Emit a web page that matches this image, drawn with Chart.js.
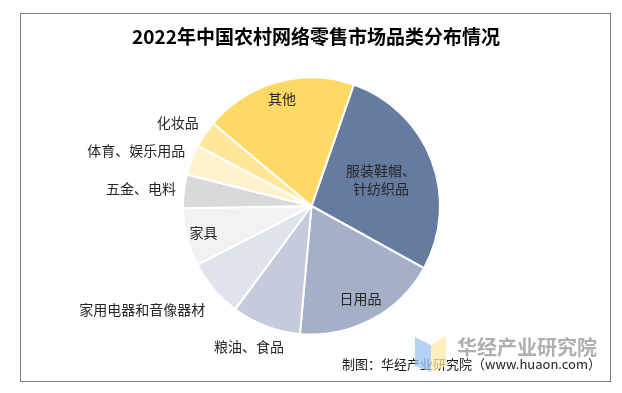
<!DOCTYPE html>
<html>
<head>
<meta charset="utf-8">
<script src="https://cdn.jsdelivr.net/npm/chart.js@4.4.1/dist/chart.umd.min.js"></script>
<style>
  html, body { margin: 0; padding: 0; background: #fff; }
  canvas { display: block; }
</style>
</head>
<body>
<canvas id="pieChart" width="622" height="393"></canvas>
<script>
// 2022年中国农村网络零售市场品类分布情况 (%)
const categories = ['服装鞋帽、针纺织品', '日用品', '粮油、食品', '家用电器和音像器材', '家具', '五金、电料', '体育、娱乐用品', '化妆品', '其他'];
const shares = [27.7, 18.4, 8.7, 7.3, 7.3, 4.2, 3.8, 3.4, 19.2];
const sliceColors = ['#667BA0', '#A5B0C8', '#C5CBDA', '#DFE3EC', '#F2F2F2', '#D9D9D9', '#FFF2CC', '#FFE699', '#FFD966'];

// how each label sits: inside (centered at a fraction of the radius) or outside
const labelLines = [['服装鞋帽、', '针纺织品'], ['日用品'], ['粮油、食品'], ['家用电器和音像器材'], ['家具'], ['五金、电料'], ['体育、娱乐用品'], ['化妆品'], ['其他']];
const labelRadius = [0.58, 0.815, 1.085, 1.085, 0.866, 1.085, 1.085, 1.085, 0.87];
const labelAlign = ['center', 'center', 'center', 'right', 'center', 'right', 'right', 'right', 'center'];
const labelNudge = [[0, 0], [0, 0], [-13, 10], [0, 13], [0, 0], [3, -1], [4, -5], [3, -5], [0, 0]];

const titleText = '2022年中国农村网络零售市场品类分布情况';
const sourceText = '制图：华经产业研究院（www.huaon.com）';
const markText = '华经产业研究院';

const labelFont = '14px "Noto Sans CJK SC", sans-serif';

const decorPlugin = {
  id: 'decor',
  beforeDraw(chart) {
    const ctx = chart.ctx;
    ctx.save();
    ctx.strokeStyle = '#7F7F7F';
    ctx.lineWidth = 1;
    ctx.strokeRect(20.5, 13.5, 590, 368);
    ctx.restore();
  },
  afterDatasetsDraw(chart) {
    const ctx = chart.ctx;
    const meta = chart.getDatasetMeta(0);
    ctx.save();
    ctx.font = labelFont;
    ctx.fillStyle = '#262626';
    ctx.textBaseline = 'middle';
    meta.data.forEach((arc, i) => {
      const p = arc.getProps(['x', 'y', 'startAngle', 'endAngle', 'outerRadius'], true);
      const mid = (p.startAngle + p.endAngle) / 2;
      const r = p.outerRadius * labelRadius[i];
      const x = p.x + Math.cos(mid) * r + labelNudge[i][0];
      const y = p.y + Math.sin(mid) * r + labelNudge[i][1];
      const lines = labelLines[i];
      ctx.textAlign = labelAlign[i];
      const lh = 18;
      lines.forEach((t, k) => {
        ctx.fillText(t, x, y + (k - (lines.length - 1) / 2) * lh);
      });
    });
    ctx.restore();
  },
  afterDraw(chart) {
    const ctx = chart.ctx;
    ctx.save();
    // title
    ctx.font = 'bold 19px "Noto Sans CJK SC", serif';
    ctx.fillStyle = '#000';
    ctx.textAlign = 'center';
    ctx.textBaseline = 'middle';
    ctx.fillText(titleText, 316, 37);

    // source line
    ctx.font = '13px "Noto Sans CJK SC", sans-serif';
    ctx.fillStyle = '#1a1a1a';
    ctx.textAlign = 'right';
    ctx.fillText(sourceText, 601, 364);

    // watermark logo
    ctx.globalAlpha = 0.75;
    ctx.fillStyle = '#9CC3F2';
    ctx.beginPath();
    ctx.moveTo(415, 337); ctx.lineTo(431, 345); ctx.lineTo(431, 372); ctx.lineTo(415, 366);
    ctx.closePath(); ctx.fill();
    ctx.fillStyle = '#FFEBA6';
    ctx.beginPath();
    ctx.moveTo(431, 345); ctx.lineTo(446, 336); ctx.lineTo(446, 366); ctx.lineTo(431, 372);
    ctx.closePath(); ctx.fill();

    // watermark text
    ctx.globalAlpha = 0.9;
    ctx.font = 'bold 20px "Noto Sans CJK SC", sans-serif';
    ctx.fillStyle = '#A6A6A6';
    ctx.textAlign = 'left';
    ctx.fillText(markText, 457, 347);
    ctx.restore();
  }
};

new Chart(document.getElementById('pieChart'), {
  type: 'pie',
  data: {
    labels: categories,
    datasets: [{
      data: shares,
      backgroundColor: sliceColors,
      borderColor: '#ffffff',
      borderWidth: 2
    }]
  },
  options: {
    responsive: false,
    animation: false,
    devicePixelRatio: 1,
    rotation: 19.2,
    layout: { padding: { left: 182, right: 181, top: 76, bottom: 57 } },
    plugins: {
      legend: { display: false },
      title: { display: false },
      tooltip: { enabled: false }
    }
  },
  plugins: [decorPlugin]
});
</script>
</body>
</html>
